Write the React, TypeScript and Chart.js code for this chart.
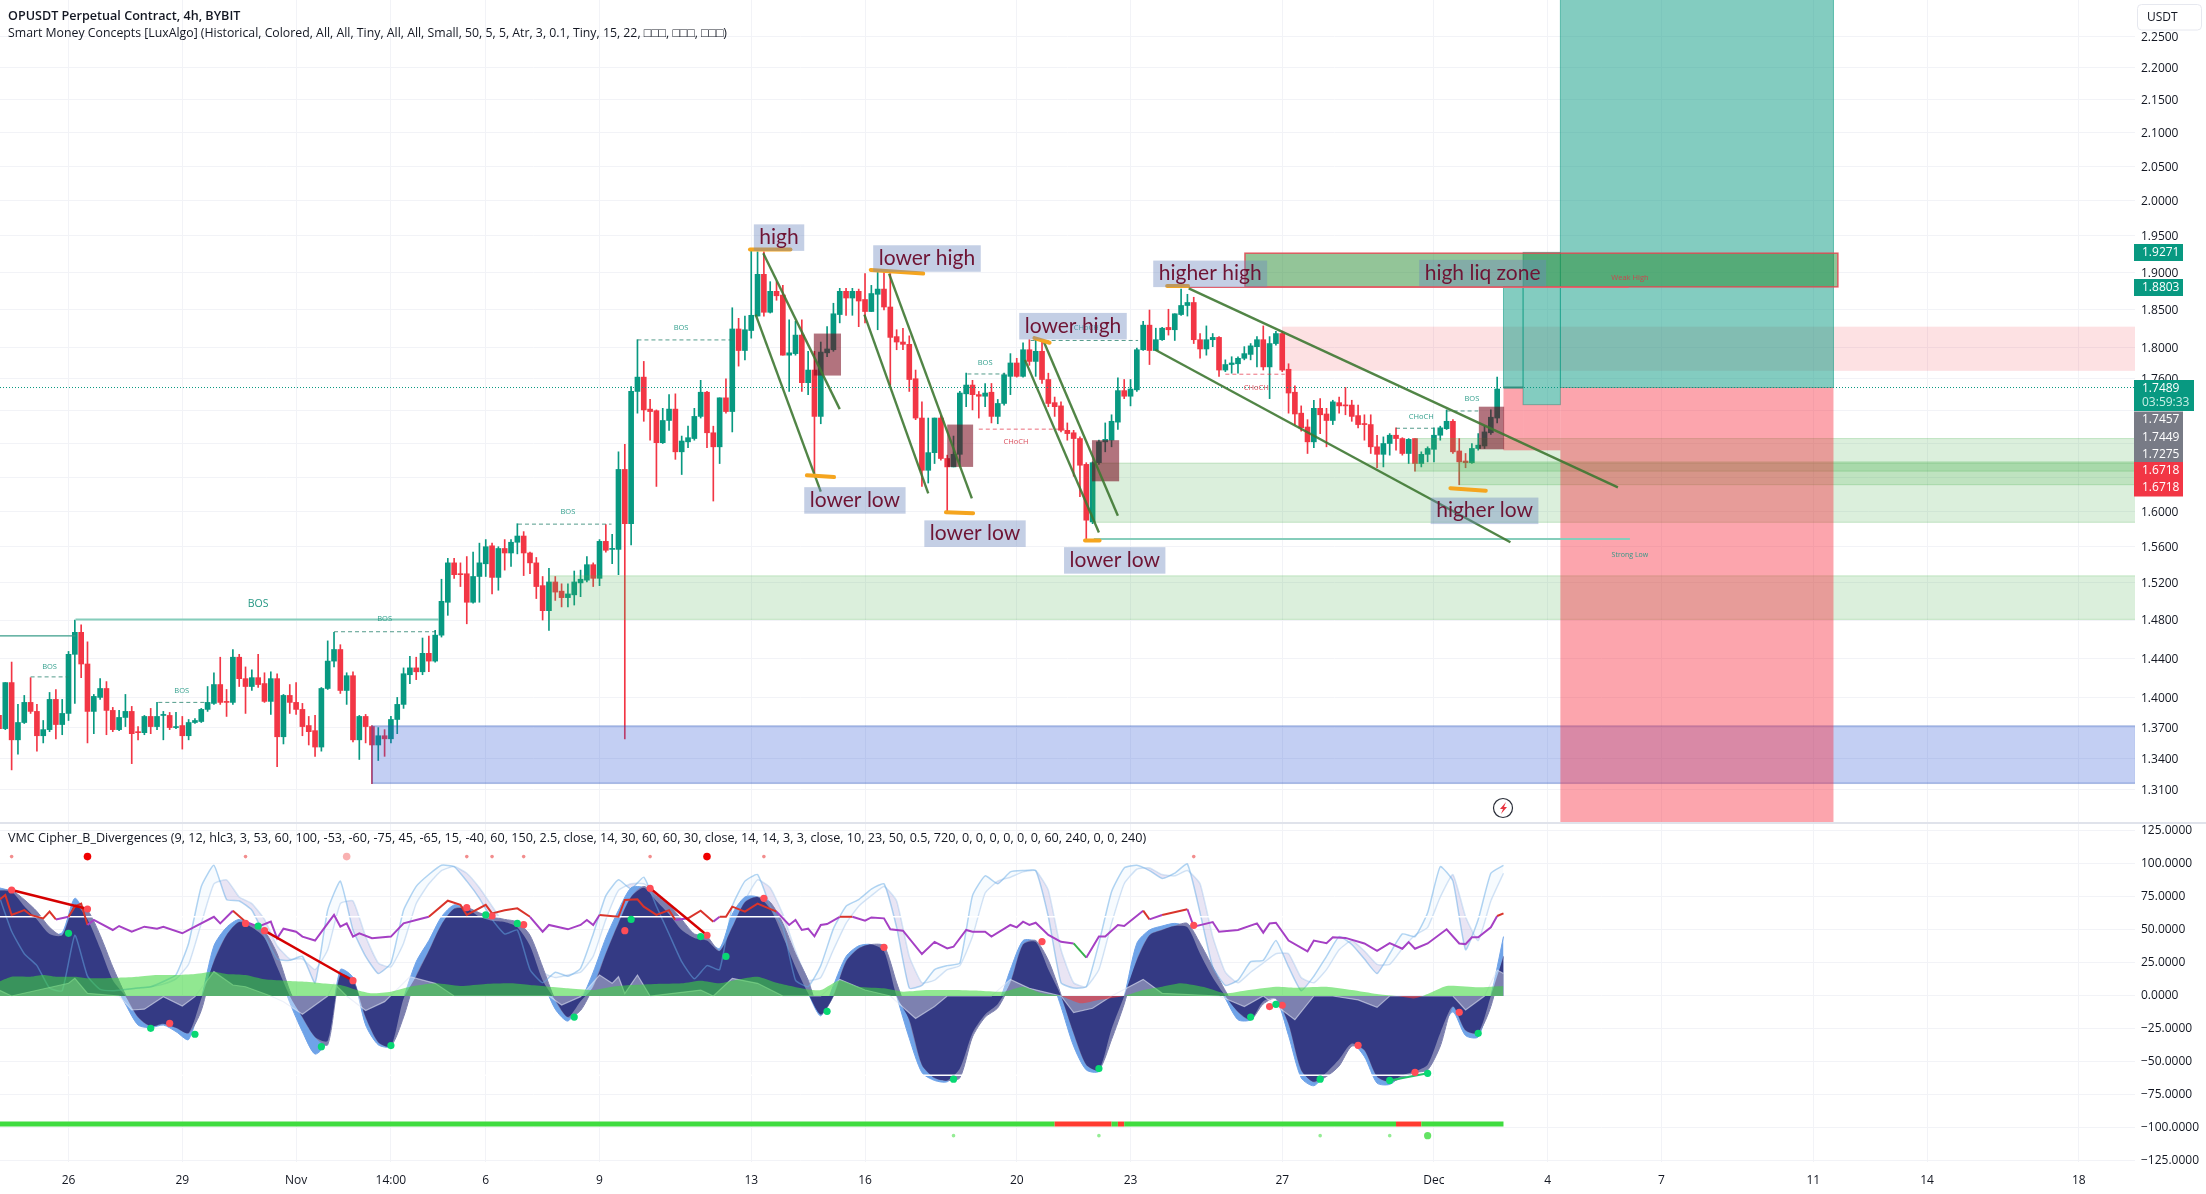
import React, { useEffect, useRef } from 'react';
import { Chart, registerables } from 'chart.js';
Chart.register(...registerables);

// ---------- candles: [open, high, low, close] ----------
const candlesA = [
[1.382,1.384,1.368,1.369],[1.369,1.415,1.368,1.415],[1.415,1.436,1.329,1.358],[1.358,1.393,1.344,1.375],[1.375,1.402,1.374,1.395],
[1.395,1.420,1.384,1.386],[1.386,1.393,1.347,1.362],[1.362,1.377,1.355,1.368],[1.368,1.405,1.366,1.398],[1.398,1.408,1.359,1.373],
[1.373,1.398,1.363,1.384],[1.384,1.447,1.377,1.444],[1.444,1.480,1.394,1.467],[1.467,1.475,1.420,1.434],[1.434,1.457,1.355,1.386],
[1.386,1.403,1.364,1.401],[1.400,1.419,1.398,1.409],[1.409,1.416,1.363,1.387],[1.387,1.390,1.366,1.368],[1.368,1.387,1.367,1.380],
[1.380,1.403,1.371,1.386],[1.386,1.391,1.335,1.364],[1.366,1.371,1.358,1.365],[1.365,1.382,1.363,1.381],[1.381,1.389,1.364,1.371],
[1.371,1.395,1.368,1.381],[1.382,1.386,1.358,1.383],[1.382,1.385,1.368,1.370],[1.370,1.385,1.369,1.371],[1.372,1.381,1.349,1.362],
[1.362,1.378,1.358,1.375],[1.375,1.379,1.374,1.377],[1.376,1.389,1.375,1.388],[1.388,1.411,1.386,1.395],[1.394,1.425,1.393,1.413],
[1.413,1.441,1.393,1.395],[1.396,1.408,1.381,1.395],[1.395,1.449,1.393,1.441],[1.441,1.444,1.411,1.419],[1.419,1.431,1.384,1.411],
[1.411,1.428,1.407,1.420],[1.420,1.444,1.410,1.413],[1.414,1.425,1.395,1.396],[1.396,1.426,1.383,1.419],[1.419,1.424,1.332,1.361],
[1.361,1.403,1.354,1.402],[1.402,1.413,1.384,1.395],[1.395,1.415,1.383,1.388],[1.388,1.394,1.362,1.371],[1.372,1.381,1.353,1.366],
[1.367,1.382,1.342,1.351],[1.351,1.410,1.347,1.409],[1.409,1.458,1.408,1.437],[1.437,1.467,1.431,1.449],[1.449,1.454,1.404,1.407],
[1.407,1.425,1.393,1.422],[1.422,1.426,1.356,1.358],[1.358,1.382,1.339,1.381],[1.381,1.383,1.355,1.371],[1.371,1.372,1.316,1.353],
];
const candlesB = [
[1.353,1.370,1.338,1.362],[1.362,1.368,1.342,1.359],[1.359,1.381,1.355,1.378],[1.378,1.400,1.364,1.393],[1.393,1.430,1.389,1.424],
[1.423,1.442,1.414,1.430],[1.430,1.441,1.418,1.426],[1.426,1.461,1.423,1.445],[1.445,1.463,1.426,1.437],[1.437,1.469,1.436,1.464],
[1.464,1.524,1.462,1.500],[1.499,1.547,1.485,1.542],[1.542,1.547,1.525,1.529],[1.530,1.542,1.516,1.529],[1.530,1.549,1.476,1.499],
[1.499,1.554,1.498,1.527],[1.527,1.564,1.499,1.542],[1.541,1.568,1.527,1.560],[1.561,1.564,1.508,1.526],[1.526,1.560,1.512,1.558],
[1.558,1.568,1.534,1.553],[1.553,1.568,1.538,1.565],[1.565,1.586,1.552,1.572],[1.572,1.577,1.528,1.553],[1.553,1.554,1.530,1.542],
[1.542,1.548,1.503,1.516],[1.517,1.527,1.480,1.490],[1.490,1.536,1.469,1.521],[1.521,1.527,1.501,1.510],[1.511,1.519,1.494,1.504],
[1.504,1.519,1.494,1.508],[1.507,1.533,1.496,1.521],[1.520,1.534,1.505,1.524],[1.523,1.549,1.521,1.540],[1.540,1.542,1.516,1.525],
[1.525,1.568,1.517,1.566],[1.566,1.585,1.554,1.556],[1.557,1.574,1.541,1.558],[1.557,1.670,1.529,1.649],[1.649,1.679,1.359,1.586],
[1.586,1.750,1.562,1.744],[1.744,1.810,1.717,1.762],[1.762,1.782,1.707,1.721],[1.722,1.734,1.684,1.719],[1.720,1.721,1.629,1.681],
[1.681,1.723,1.680,1.708],[1.708,1.740,1.696,1.722],[1.722,1.741,1.661,1.670],[1.670,1.689,1.643,1.683],[1.682,1.701,1.675,1.687],
[1.686,1.723,1.684,1.713],[1.713,1.758,1.711,1.743],[1.743,1.744,1.675,1.693],[1.693,1.701,1.612,1.676],[1.676,1.736,1.656,1.736],
[1.736,1.760,1.717,1.719],[1.719,1.852,1.694,1.824],[1.824,1.838,1.776,1.796],[1.796,1.841,1.784,1.823],[1.822,1.930,1.812,1.842],
];
const candlesC = [
[1.841,1.928,1.841,1.897],[1.897,1.928,1.841,1.846],[1.846,1.887,1.845,1.874],[1.874,1.887,1.862,1.868],[1.869,1.882,1.790,1.790],
[1.790,1.836,1.744,1.793],[1.792,1.834,1.790,1.816],[1.816,1.836,1.744,1.755],[1.755,1.795,1.740,1.771],[1.771,1.795,1.645,1.713],
[1.713,1.807,1.704,1.794],[1.793,1.827,1.788,1.798],[1.797,1.858,1.795,1.844],[1.843,1.878,1.832,1.874],[1.874,1.878,1.842,1.865],
[1.865,1.878,1.842,1.874],[1.874,1.877,1.827,1.861],[1.863,1.898,1.832,1.847],[1.847,1.882,1.847,1.871],[1.870,1.903,1.823,1.877],
[1.877,1.903,1.849,1.853],[1.853,1.898,1.752,1.813],[1.814,1.823,1.797,1.807],[1.807,1.825,1.797,1.804],[1.804,1.815,1.744,1.759],
[1.760,1.771,1.709,1.711],[1.711,1.731,1.629,1.648],[1.648,1.711,1.633,1.669],[1.669,1.711,1.656,1.711],[1.711,1.714,1.660,1.662],
[1.662,1.666,1.600,1.652],[1.652,1.689,1.652,1.667],[1.667,1.744,1.652,1.742],[1.741,1.767,1.725,1.752],[1.752,1.758,1.721,1.740],
[1.740,1.744,1.711,1.738],[1.738,1.754,1.725,1.742],[1.743,1.754,1.705,1.713],[1.713,1.734,1.704,1.729],[1.729,1.767,1.727,1.765],
[1.763,1.792,1.740,1.780],[1.780,1.786,1.762,1.763],[1.763,1.806,1.762,1.797],[1.797,1.810,1.777,1.782],[1.782,1.810,1.763,1.795],
[1.795,1.810,1.754,1.759],[1.759,1.767,1.725,1.729],[1.730,1.737,1.713,1.725],[1.726,1.731,1.694,1.696],[1.696,1.705,1.684,1.692],
[1.693,1.696,1.641,1.686],[1.686,1.688,1.617,1.654],[1.655,1.657,1.567,1.590],[1.588,1.658,1.586,1.657],[1.657,1.684,1.655,1.682],
[1.682,1.705,1.670,1.685],[1.684,1.715,1.676,1.707],[1.706,1.761,1.697,1.745],[1.745,1.759,1.735,1.738],[1.738,1.759,1.726,1.747],
];
const candlesD = [
[1.746,1.799,1.744,1.797],[1.797,1.834,1.796,1.829],[1.829,1.849,1.778,1.796],[1.796,1.825,1.796,1.810],[1.810,1.826,1.809,1.825],
[1.826,1.850,1.816,1.823],[1.823,1.844,1.809,1.844],[1.843,1.877,1.842,1.855],[1.855,1.870,1.841,1.859],[1.859,1.866,1.805,1.810],
[1.810,1.818,1.786,1.798],[1.798,1.828,1.790,1.810],[1.810,1.818,1.801,1.813],[1.813,1.814,1.763,1.771],[1.771,1.784,1.769,1.778],
[1.778,1.788,1.767,1.780],[1.779,1.788,1.767,1.786],[1.786,1.801,1.784,1.792],[1.791,1.805,1.784,1.802],[1.801,1.814,1.775,1.810],
[1.810,1.828,1.771,1.775],[1.775,1.814,1.735,1.805],[1.805,1.821,1.803,1.818],[1.818,1.821,1.769,1.771],[1.772,1.779,1.717,1.742],
[1.743,1.751,1.703,1.716],[1.717,1.726,1.695,1.699],[1.700,1.709,1.668,1.682],[1.682,1.733,1.675,1.723],[1.723,1.735,1.692,1.715],
[1.716,1.723,1.676,1.708],[1.708,1.733,1.703,1.731],[1.730,1.737,1.717,1.726],[1.727,1.749,1.715,1.726],[1.727,1.733,1.707,1.713],
[1.714,1.727,1.699,1.703],[1.704,1.715,1.684,1.703],[1.703,1.715,1.668,1.676],[1.676,1.690,1.651,1.667],[1.667,1.688,1.652,1.680],
[1.680,1.692,1.666,1.690],[1.690,1.699,1.672,1.686],[1.686,1.687,1.666,1.668],[1.668,1.686,1.656,1.685],[1.686,1.686,1.647,1.656],
[1.656,1.670,1.652,1.667],[1.667,1.676,1.658,1.674],[1.673,1.699,1.658,1.690],[1.690,1.701,1.684,1.699],[1.698,1.721,1.697,1.707],
[1.707,1.709,1.668,1.670],[1.671,1.686,1.631,1.658],[1.659,1.668,1.651,1.657],[1.657,1.680,1.656,1.674],[1.674,1.692,1.672,1.678],
[1.677,1.701,1.674,1.694],[1.693,1.721,1.691,1.712],[1.711,1.762,1.705,1.747],
];

// ---------- axes ----------
const priceTicks = [2.25,2.2,2.15,2.1,2.05,2.0,1.95,1.9,1.85,1.8,1.76,1.72,1.68,1.64,1.6,1.56,1.52,1.48,1.44,1.4,1.37,1.34,1.31];
const hiddenPriceTicks = [1.72,1.68,1.64];
const oscTicks = [125,100,75,50,25,0,-25,-50,-75,-100,-125];
const timeBars = [11,29,47,62,77,95,119,137,161,179,203,227,245,263,287,305,329];
const timeLabels = ['26','29','Nov','14:00','6','9','13','16','20','23','27','Dec','4','7','11','14','18'];

// ---------- price pane drawings: [barStart, barEnd, priceTop, priceBottom] ----------
const blueZones = [[59,338,1.3716,1.3163]];
const greenZones = [[87,338,1.5277,1.4807],[173,338,1.6565,1.5876],[224,338,1.686,1.647],[231,338,1.658,1.631]];
const pinkZones = [[203,338,1.827,1.770]];
const orderBoxes = [[128.9,133.2,1.818,1.764],[150,154.1,1.703,1.652],[172.9,177.2,1.684,1.635],[234.1,238.1,1.725,1.673]];
const liqBoxes = [[197.1,290.9,1.926,1.880]];
const profitBoxes = [[238,241.1,1.8803,1.7489],[241.1,247,1.9271,1.7275],[247,290.2,2.4,1.7489]];
const lossBoxes = [[238,241.1,1.7489,1.6718],[241.1,247,1.7275,1.6718],[247,290.2,1.7489,1.2]];
// [barA, priceA, barB, priceB]
const trendLines = [[120.9,1.926,133,1.722],[119.7,1.843,130,1.623],[140.8,1.898,153.9,1.615],[136.9,1.843,147,1.621],[165.3,1.807,177,1.595],[162.3,1.784,174,1.576],[188.2,1.878,256.1,1.628],[182.9,1.797,239.1,1.565]];
const swingMarks = [[118.8,1.931,125.2,1.931],[137.9,1.903,146.2,1.898],[127.8,1.642,132.1,1.640],[149.8,1.599,154.1,1.598],[163.8,1.812,166.2,1.806],[171.8,1.567,174.1,1.567],[184.8,1.881,188.1,1.881],[229.6,1.627,235.2,1.624]];
const bullDashes = [[5,1.4208,11,1.4208],[25.2,1.395,32.5,1.395],[53,1.4676,69.2,1.4676],[82.1,1.5855,96.9,1.5855],[101,1.8097,116,1.8097],[153.2,1.766,159.2,1.766],[163.2,1.809,180.2,1.809],[221,1.6985,227,1.6985],[229,1.7197,234,1.7197]];
const bearDashes = [[155,1.6974,168.6,1.6974],[194,1.7657,203.4,1.7657]];
const bullSolid = [[0,1.4632,12.1,1.4632]];
const bullSolidLight = [[12.1,1.4805,69.6,1.4805],[173.2,1.5686,258,1.5686]];
const bearSolid = [[187.3,1.8793,257.8,1.8793]];
const lastPrice = 1.7489;
const noteLabels = ['high','lower high','lower low','lower low','lower high','lower low','higher high','higher low','high liq zone'];
const noteBars = [123.4,146.8,135.4,154.4,169.9,176.5,191.6,235,234.7];
const notePrices = [1.948,1.919,1.613,1.575,1.828,1.545,1.898,1.601,1.899];
const bullTexts = ['BOS','BOS','BOS','BOS','BOS','BOS','CHoCH','CHoCH','BOS','Strong Low'];
const bullTextBars = [8,28.9,61,90,107.9,156,172,225,233,258];
const bullTextPrices = [1.431,1.4071,1.481,1.5993,1.826,1.7804,1.8254,1.7127,1.7352,1.5505];
const bearTexts = ['CHoCH','CHoCH','Weak High'];
const bearTextBars = [160.9,198.9,258];
const bearTextPrices = [1.6825,1.7488,1.8925];
const mainBos = ['BOS'];
const mainBosBar = [41];
const mainBosPrice = [1.4968];

// ---------- oscillator ----------
const sampleBars = Array.from({ length: 120 }, (_, i) => i * 2);
const wt1Values = [
82,79,68,58,47,48,74,58,36,12,
-6,-22,-24,-22,-27,-33,-2,38,52,58,
52,44,22,-5,-27,-44,-34,20,14,-22,
-37,-38,-2,26,42,60,69,66,60,57,
56,52,38,12,-10,-19,-4,18,44,65,
82,82,72,62,50,44,42,36,62,75,
75,66,45,22,2,-15,8,30,38,39,
34,0,-32,-58,-64,-65,-55,-28,-14,-6,
20,42,41,20,-8,-38,-56,-57,-25,0,
40,50,53,55,52,32,14,-2,-18,-18,
-4,-2,-30,-62,-68,-58,-48,-36,-46,-66,
-67,-60,-57,-52,-28,-12,-30,-31,0,45];
const wt2Values = [
80,80,73,64,52,46,69,65,46,22,
1,-16,-23,-21,-24,-28,-11,26,46,56,
54,49,32,4,-16,-31,-37,16,12,-16,
-35,-38,-16,15,34,54,66,67,63,60,
58,56,46,22,-3,-16,-11,7,32,55,
75,83,76,69,58,47,45,34,52,71,
75,71,55,32,12,-14,0,26,36,39,
38,10,-18,-52,-62,-64,-62,-31,-16,-9,
10,39,42,27,1,-28,-52,-56,-33,-6,
27,46,50,53,55,40,22,4,-12,-18,
-6,-2,-21,-56,-65,-61,-53,-38,-41,-61,
-65,-62,-58,-56,-38,-8,-26,-28,-8,30];
const stochK = [
76,49,32,23,6,4,46,15,5,4,
5,6,7,11,16,40,83,99,73,72,
65,46,28,27,30,10,65,87,50,30,
17,25,65,83,92,99,98,87,74,58,
47,50,20,10,18,15,21,47,76,88,
81,90,68,47,26,13,23,20,68,87,
92,68,52,12,7,23,51,68,73,81,
85,52,6,8,20,23,25,76,91,85,
94,95,95,60,10,6,7,40,79,97,
99,95,89,93,100,63,22,8,12,26,
27,42,22,4,15,30,45,39,28,17,
32,47,45,63,98,87,35,58,93,99];
const stochD = [
80,62,40,30,18,8,22,28,14,6,
5,6,7,9,13,24,55,85,88,75,
70,58,38,28,28,20,35,70,72,45,
25,22,40,70,85,95,98,93,82,68,
54,48,36,18,14,16,18,30,58,80,
85,85,78,58,38,20,18,22,40,72,
88,82,62,34,12,14,35,55,68,76,
83,72,30,10,12,20,23,45,78,87,
90,94,95,80,35,10,7,20,55,85,
96,97,92,91,95,85,45,18,10,18,
25,32,32,14,10,20,35,42,34,24,
24,36,46,52,75,92,60,42,72,93];
const rsiBars = [0,1,2,4,5,7,8,9,11,12,13,14,15,18,19,21,23,25,26,29,31,34,35,37,39,41,43,44,45,47,48,50,52,53,54,55,56,57,59,62,64,66,68,71,73,74,77,78,80,82,84,86,87,90,92,93,94,95,98,99,101,102,104,106,107,109,111,113,114,115,116,118,120,123,125,126,127,128,129,130,131,133,135,137,138,140,141,143,146,148,150,151,153,154,156,157,160,161,162,163,164,166,168,170,172,174,175,177,178,181,182,184,188,189,192,193,196,199,200,201,202,204,207,208,210,211,213,216,218,220,222,223,224,226,229,231,232,233,234,236,237,238];
const rsiValues = [72.7,76.5,61.4,65,61.4,58.8,63.9,58,60,67.7,70,53.8,57.6,50,53,48.7,52.5,51,52.5,47.5,52.5,60,55,64.6,56.3,52.5,56.3,43.7,51,48.7,45,42,55,61.4,52.5,55,45,47.5,43.7,45,55,57.6,60,72.2,69,61.4,69,62.6,65,66.4,60,48.7,53.8,50.5,53.8,57.6,53.8,61.4,60,72.7,73.2,67.7,61.4,65,57.6,58.8,64.6,56.3,60,60,67.7,63.9,70,63.9,53.8,57.6,50,51,45.2,53.8,54.5,60,60,57,59.5,58.8,50.5,49.5,31.8,41,36,37.3,50,48.7,48.7,45,53.8,52,56.3,53.8,55.5,46.2,41,39.8,29,45,45,53.8,53,64.6,58,61.4,65.7,52.5,56,48.7,50,55,48,55,55.5,42,33.8,42,40,44.5,44,39.8,34.2,40,35.8,40.8,35.8,39.8,50.5,39.8,39.3,44.5,44.5,52,60.6,62.6];
const vwapBars = [0,2,11,12,14,19,21,23,26,29,31,34,37,39,43,45,48,52,53,55,58,61,65,69,72,87,89,92,95,97,98,99,101,103,111,113,116,120,124,130,133,137,141,145,148,150,157,160,163,168,170,173,176,181,184,193,197,200,205,208,211,215,218,220,230,232,235,237,238];
const vwapValues = [4.5,0,9.6,13.4,2,0,-10.6,-10,-0.5,-7.6,-0.5,18.4,8.3,7,0,-4.3,-13.9,0,9.6,0,-11,-4.3,14.6,9.6,0,0,-6.8,-0.5,15.9,9.6,14.6,2,15.9,0,4.5,0,13.4,9.6,0,0,12.6,4.5,0,-17,-8,0,0,12.6,5.8,0,-12.6,-9.3,0,12.6,2,0,-8,0,-18,0,0,-3,-8.6,0,0,-10.6,0,19.7,17];
const mfiBars = [0,2,5,7,9,12,14,19,22,25,28,31,34,36,39,42,45,48,51,54,57,59,62,65,69,73,77,81,84,87,90,94,97,100,104,108,111,114,117,120,123,125,128,130,133,136,140,143,147,151,155,159,162,165,168,171,174,178,181,184,187,191,194,197,202,205,210,214,218,222,224,226,229,234,238];
const mfiValues = [10.9,14.6,14.6,15.9,14.6,14.6,13.4,13.9,14.6,15.9,15.9,16.7,18.4,16.7,15.9,12.6,11.6,10.9,9.6,8.3,4,2,3.3,7,9.6,7.6,9.1,9.6,8.3,7,5.8,4.5,7,8.3,9.1,9.6,11.6,9.6,12.6,14.6,10,7.8,5,4.5,12,7,5.8,3.3,4.5,4.5,4,3.3,7,2,0,-5.5,-3,0,4.5,7,9.6,6.3,2,4,7,6.3,7,4.5,1.5,-0.5,-1.8,1.5,7.6,6.6,7.6];
const overboughtLevels = [60,-60];
const redDotBars = [2,14,39,42,56,74,78,83,99,103,112,27,121,140,165,189,201,203,215,224,231];
const redDotValues = [80.3,65.9,55,49.5,11.6,66.9,60.6,54,49.5,81.6,46,-20.7,74,36.9,41.2,53.5,-8,-7,-37.4,-57.8,-12.4];
const greenDotBars = [11,24,31,41,51,62,77,82,91,100,111,115,131,151,174,198,202,209,220,226,234];
const greenDotValues = [47.5,-24.5,-29,53,-38.4,-37.6,61.4,55,-16,58,45,30,-11.6,-63,-55,-16,-6.3,-63,-64,-58.6,-28.3];
const bearDivergences = [[2,80.3,14,65.9],[42,49.5,56,11.6],[103,81.6,112,46]];
const bullDivergences = [[220,-64,226,-58.6]];
const topSmallBars = [2,39,74,78,83,103,121,189];
const topBigBars = [14,112];
const topPaleBars = [55];
const topRowValue = 105.6;
const bottomSmallBars = [151,174,209,220];
const bottomBigBars = [226];
const bottomRowValue = -105.8;
const stripBars = [0,167,176,177,178,221,225,238];
const stripRedFrom = [167,177,221];
const stripValue = -97;

// ---------- texts ----------
const titleMain = 'OPUSDT Perpetual Contract, 4h, BYBIT';
const titleSmc = 'Smart Money Concepts [LuxAlgo] (Historical, Colored, All, All, Tiny, All, All, Small, 50, 5, 5, Atr, 3, 0.1, Tiny, 15, 22, □□□, □□□, □□□)';
const titleVmc = 'VMC Cipher_B_Divergences (9, 12, hlc3, 3, 53, 60, 100, -53, -60, -75, 45, -65, 15, -40, 60, 150, 2.5, close, 14, 30, 60, 60, 30, close, 14, 14, 3, 3, close, 10, 23, 50, 0.5, 720, 0, 0, 0, 0, 0, 0, 60, 240, 0, 0, 240)';
const greenBadges = ['1.9271','1.8803'];
const liveBadge = ['1.7489','03:59:33'];
const greyBadges = ['1.7457','1.7449','1.7275'];
const redBadges = ['1.6718','1.6718'];

// ---------- styling / layout constants ----------
const FONT = '"Open Sans"';
const UP = '#089981';
const DOWN = '#f23645';
const GRID = '#f2f3f7';
const TEXT = '#131722';
const W = 2206;
const PRICE_H = 822;
const OSC_H = 372;
const AXIS_W = 71;
const X_MIN = 0.16;
const X_MAX = 337.9;

const candles = [...candlesA, ...candlesB, ...candlesC, ...candlesD];
const pairs = (xs: number[], ys: number[]) => xs.map((x, i) => ({ x, y: ys[i] }));

function drawRect(c: any, r: number[], fill: string, stroke?: string, lw = 1) {
  const { ctx, scales: { x, y } } = c;
  const x0 = x.getPixelForValue(r[0]), x1 = x.getPixelForValue(r[1]);
  const y0 = y.getPixelForValue(r[2]), y1 = y.getPixelForValue(r[3]);
  ctx.fillStyle = fill;
  ctx.fillRect(x0, y0, x1 - x0, y1 - y0);
  if (stroke) { ctx.strokeStyle = stroke; ctx.lineWidth = lw; ctx.setLineDash([]); ctx.strokeRect(x0, y0, x1 - x0, y1 - y0); }
}
function drawSeg(c: any, s: number[], color: string, lw: number, dash: number[] = [], cap = 'butt') {
  const { ctx, scales: { x, y } } = c;
  ctx.beginPath();
  ctx.moveTo(x.getPixelForValue(s[0]), y.getPixelForValue(s[1]));
  ctx.lineTo(x.getPixelForValue(s[2]), y.getPixelForValue(s[3]));
  ctx.strokeStyle = color; ctx.lineWidth = lw; ctx.setLineDash(dash); ctx.lineCap = cap; ctx.stroke();
  ctx.setLineDash([]); ctx.lineCap = 'butt';
}
function drawTxt(c: any, t: string, bar: number, price: number, color: string, font: string) {
  const { ctx, scales: { x, y } } = c;
  ctx.font = font; ctx.fillStyle = color; ctx.textAlign = 'center'; ctx.textBaseline = 'middle';
  ctx.fillText(t, x.getPixelForValue(bar), y.getPixelForValue(price));
}
function headText(ctx: any, t: string, px: number, py: number, font: string, color = TEXT) {
  ctx.font = font; ctx.fillStyle = color; ctx.textAlign = 'left'; ctx.textBaseline = 'middle';
  ctx.fillText(t, px, py);
}

const priceOverlay = {
  id: 'priceOverlay',
  afterDatasetsDraw(c: any) {
    const { ctx, chartArea: a, scales: { x, y } } = c;
    ctx.save();
    ctx.beginPath(); ctx.rect(a.left, a.top, a.right - a.left, a.bottom - a.top); ctx.clip();
    pinkZones.forEach(r => drawRect(c, r, 'rgba(242,54,69,0.15)'));
    greenZones.forEach(r => drawRect(c, r, 'rgba(76,175,80,0.2)', 'rgba(76,175,80,0.28)'));
    blueZones.forEach(r => drawRect(c, r, 'rgba(41,82,212,0.28)', 'rgba(41,82,180,0.35)', 1.5));
    profitBoxes.forEach(r => drawRect(c, r, 'rgba(8,153,129,0.5)', 'rgba(8,153,129,0.55)'));
    lossBoxes.forEach(r => drawRect(c, r, 'rgba(249,40,60,0.42)'));
    liqBoxes.forEach(r => drawRect(c, r, 'rgba(40,140,50,0.5)', 'rgba(228,70,80,0.85)', 1.5));
    orderBoxes.forEach(r => drawRect(c, r, 'rgba(115,0,20,0.55)'));
    drawSeg(c, [X_MIN, lastPrice, X_MAX, lastPrice], UP, 1, [1, 2]);
    bullDashes.forEach(s => drawSeg(c, s, 'rgba(40,130,110,0.8)', 1, [4, 3]));
    bearDashes.forEach(s => drawSeg(c, s, 'rgba(230,60,80,0.75)', 1, [4, 3]));
    bullSolid.forEach(s => drawSeg(c, s, '#3a9d8a', 1.2));
    bullSolidLight.forEach(s => drawSeg(c, s, '#86cdbb', 2));
    bearSolid.forEach(s => drawSeg(c, s, '#e8606c', 1.2));
    drawSeg(c, [238, 1.7489, 241.1, 1.7489], '#2f8f7e', 2);
    trendLines.forEach(s => drawSeg(c, s, 'rgba(62,120,50,0.9)', 2.4));
    swingMarks.forEach(s => drawSeg(c, s, '#f5a51f', 4, [], 'round'));
    bullTexts.forEach((t, i) => drawTxt(c, t, bullTextBars[i], bullTextPrices[i], 'rgba(30,150,130,0.9)', `${t === 'Strong Low' ? 7 : 7.5}px ${FONT}`));
    bearTexts.forEach((t, i) => drawTxt(c, t, bearTextBars[i], bearTextPrices[i], 'rgba(215,60,75,0.9)', `7.5px ${FONT}`));
    mainBos.forEach((t, i) => drawTxt(c, t, mainBosBar[i], mainBosPrice[i], 'rgba(25,145,125,0.95)', `10.5px ${FONT}`));
    noteLabels.forEach((t, i) => {
      ctx.font = `21px Lato`;
      const w = ctx.measureText(t).width + 11;
      const cx = x.getPixelForValue(noteBars[i]), cy = y.getPixelForValue(notePrices[i]);
      ctx.fillStyle = 'rgba(108,135,190,0.4)';
      ctx.fillRect(cx - w / 2, cy - 13, w, 26.5);
      drawTxt(c, t, noteBars[i], notePrices[i], '#6f1434', `21px Lato`);
    });
    // replay marker
    const bx = 1503, by = 808;
    ctx.beginPath(); ctx.arc(bx, by, 9.5, 0, Math.PI * 2);
    ctx.fillStyle = '#fff'; ctx.fill(); ctx.strokeStyle = '#2a2e39'; ctx.lineWidth = 1.2; ctx.stroke();
    ctx.beginPath();
    ctx.moveTo(bx + 3, by - 6); ctx.lineTo(bx - 3, by + 1); ctx.lineTo(bx, by + 1); ctx.lineTo(bx - 2, by + 6); ctx.lineTo(bx + 4, by - 1); ctx.lineTo(bx + 1, by - 1); ctx.closePath();
    ctx.fillStyle = '#e8333f'; ctx.fill();
    ctx.restore();

    // headings
    ctx.save();
    headText(ctx, titleMain, 8, 16, `600 12.6px ${FONT}`);
    headText(ctx, titleSmc, 8, 33.5, `12.3px ${FONT}`);

    // axis badges
    const badge = (t: string, top: number, h: number, color: string, w = 49, fg = '#fff', font = `12px ${FONT}`) => {
      ctx.fillStyle = color; ctx.fillRect(2134, top, w, h);
      ctx.font = font; ctx.fillStyle = fg; ctx.textAlign = 'left'; ctx.textBaseline = 'middle';
      ctx.fillText(t, 2142, top + h / 2);
    };
    badge(greenBadges[0], 244, 17, UP);
    badge(greenBadges[1], 279, 17, UP);
    ctx.fillStyle = UP; ctx.fillRect(2134, 380, 60, 31);
    ctx.font = `12px ${FONT}`; ctx.textAlign = 'left'; ctx.textBaseline = 'middle';
    ctx.fillStyle = '#fff'; ctx.fillText(liveBadge[0], 2142, 389);
    ctx.fillStyle = '#c8efe6'; ctx.fillText(liveBadge[1], 2142, 403);
    ctx.fillStyle = '#787b86'; ctx.fillRect(2134, 411.5, 49, 51);
    ctx.fillStyle = DOWN; ctx.fillRect(2134, 462, 49, 34.5);
    ctx.fillStyle = '#fff';
    greyBadges.forEach((t, i) => ctx.fillText(t, 2142, 420 + i * 17.3));
    redBadges.forEach((t, i) => ctx.fillText(t, 2142, 470.5 + i * 17.3));

    // currency button
    ctx.beginPath(); ctx.roundRect(2137.5, 4.5, 64, 25.5, 4);
    ctx.fillStyle = '#fff'; ctx.fill(); ctx.strokeStyle = '#e6e8ef'; ctx.lineWidth = 1; ctx.stroke();
    ctx.font = `12px ${FONT}`; ctx.fillStyle = TEXT; ctx.textAlign = 'left';
    ctx.fillText('USDT', 2147, 17.5);
    ctx.restore();
  },
};

const oscOverlay = {
  id: 'oscOverlay',
  afterDatasetsDraw(c: any) {
    const { ctx } = c;
    ctx.save();
    ctx.fillStyle = '#e0e3eb'; ctx.fillRect(0, 0, W, 2);
    headText(ctx, titleVmc, 8, 16, `12.6px ${FONT}`);
    ctx.restore();
  },
};

function noPadding(s: any) { s.paddingLeft = 0; s.paddingRight = 0; s.paddingTop = 0; s.paddingBottom = 0; }

function xScale(showLabels: boolean) {
  return {
    type: 'linear', min: X_MIN, max: X_MAX, offset: false,
    grid: { color: GRID, drawTicks: false, offset: false },
    border: { display: false },
    afterBuildTicks: (s: any) => { s.ticks = timeBars.map(value => ({ value })); },
    afterFit: (s: any) => { s.height = showLabels ? 32 : 0; noPadding(s); },
    ticks: {
      display: showLabels, autoSkip: false, maxRotation: 0, padding: 11,
      color: TEXT, font: { family: 'Open Sans', size: 12 },
      callback: (v: number) => timeLabels[timeBars.indexOf(v)] ?? '',
    },
  };
}
function yFit(s: any) { s.width = AXIS_W; noPadding(s); }

const flat = { pointRadius: 0, pointHoverRadius: 0 };

export default function App() {
  const priceRef = useRef<HTMLCanvasElement>(null);
  const oscRef = useRef<HTMLCanvasElement>(null);

  useEffect(() => {
    const colors = candles.map(r => (r[3] >= r[0] ? UP : DOWN));
    const price = new Chart(priceRef.current!, {
      type: 'bar',
      data: {
        datasets: [
          {
            label: 'Body', order: 1, barThickness: 5, minBarLength: 1, grouped: false,
            data: candles.map((r, i) => ({ x: i, y: [Math.min(r[0], r[3]), Math.max(r[0], r[3])] })),
            backgroundColor: colors, borderWidth: 0,
          },
          {
            label: 'Wick', order: 2, barThickness: 1, grouped: false,
            data: candles.map((r, i) => ({ x: i, y: [r[2], r[1]] })),
            backgroundColor: colors, borderWidth: 0,
          },
        ] as any,
      },
      options: {
        responsive: false, animation: false, devicePixelRatio: 1,
        layout: { padding: 0, autoPadding: false },
        plugins: { legend: { display: false }, tooltip: { enabled: false }, title: { display: false } },
        scales: {
          x: xScale(false),
          y: {
            type: 'logarithmic', position: 'right', min: 1.2802, max: 2.31,
            grid: { color: GRID, drawTicks: false },
            border: { display: false },
            afterFit: yFit,
            afterBuildTicks: (s: any) => { s.ticks = priceTicks.map(value => ({ value })); },
            ticks: {
              autoSkip: false, padding: 6, labelOffset: 1, color: TEXT, font: { family: 'Open Sans', size: 12 },
              callback: (v: number) => (hiddenPriceTicks.includes(v) ? '' : v.toFixed(4)),
            },
          },
        },
      } as any,
      plugins: [priceOverlay],
    });

    // the dark fill covers only the part shared by both wave lines
    const sharedWave = wt1Values.map((v, i) => {
      const u = wt2Values[i];
      if (v * u <= 0) return 0;
      return Math.abs(v) < Math.abs(u) ? v : u;
    });

    const datasets: any[] = [
      { label: 'Stoch D', data: pairs(sampleBars, stochD), borderColor: 'rgba(205,225,245,0.85)', borderWidth: 1.5, fill: false, tension: 0.15, ...flat },
      {
        label: 'Stoch band', data: pairs(sampleBars, stochK), borderWidth: 0, tension: 0.15, ...flat,
        fill: { target: 0, above: 'rgba(190,225,245,0.12)', below: 'rgba(175,160,215,0.27)' },
      },
      { label: 'WT1', data: pairs(sampleBars, wt1Values), borderColor: '#6fa3e8', borderWidth: 1, backgroundColor: '#6fa3e8', fill: 'origin', tension: 0.25, ...flat },
      { label: 'WT2', data: pairs(sampleBars, wt2Values), borderColor: '#7c7fae', borderWidth: 1, backgroundColor: '#7c7fae', fill: 'origin', tension: 0.25, ...flat },
      { label: 'WT shared', data: pairs(sampleBars, sharedWave), borderColor: '#343a84', borderWidth: 0, backgroundColor: '#343a84', fill: 'origin', tension: 0.25, ...flat },
      { label: 'Stoch K', data: pairs(sampleBars, stochK), borderColor: 'rgba(100,170,230,0.5)', borderWidth: 1.5, fill: false, tension: 0.15, ...flat },
      { label: 'VWAP', data: pairs(vwapBars, vwapValues), borderColor: 'rgba(225,230,245,0.6)', borderWidth: 1.2, backgroundColor: 'rgba(255,255,255,0.36)', fill: 'origin', ...flat },
      {
        label: 'MFI', data: pairs(mfiBars, mfiValues), borderWidth: 0, tension: 0.2, ...flat,
        fill: { target: 'origin', above: 'rgba(62,215,62,0.57)', below: 'rgba(240,60,60,0.6)' },
      },
      ...overboughtLevels.map(v => ({ label: 'Level', data: [{ x: 0, y: v }, { x: 238, y: v }], borderColor: '#ffffff', borderWidth: 1.5, fill: false, ...flat })),
      {
        label: 'RSI', data: pairs(rsiBars, rsiValues), borderColor: '#a540c4', borderWidth: 2, fill: false, ...flat,
        segment: {
          borderColor: (s: any) => {
            const a = s.p0.parsed.y, b = s.p1.parsed.y;
            if ((a + b) / 2 >= 60) return '#d9342b';
            if (b < 30) return '#37b24d';
            return '#a540c4';
          },
        },
      },
      ...bearDivergences.map(s => ({ label: 'Bear divergence', data: [{ x: s[0], y: s[1] }, { x: s[2], y: s[3] }], borderColor: '#d50000', borderWidth: 2.4, fill: false, ...flat })),
      ...bullDivergences.map(s => ({ label: 'Bull divergence', data: [{ x: s[0], y: s[1] }, { x: s[2], y: s[3] }], borderColor: '#20c46a', borderWidth: 2, fill: false, ...flat })),
      {
        label: 'Signal strip', data: stripBars.map(x => ({ x, y: stripValue })), borderColor: '#3fdc3f', borderWidth: 5, fill: false, ...flat,
        segment: { borderColor: (s: any) => (stripRedFrom.includes(s.p0.parsed.x) ? '#ff3b30' : '#3fdc3f') },
      },
      { label: 'Red dots', data: pairs(redDotBars, redDotValues), showLine: false, pointRadius: 3.6, pointBackgroundColor: '#ff4d57', pointBorderWidth: 0 },
      { label: 'Green dots', data: pairs(greenDotBars, greenDotValues), showLine: false, pointRadius: 3.6, pointBackgroundColor: '#08d873', pointBorderWidth: 0 },
      { label: 'Top small', data: topSmallBars.map(x => ({ x, y: topRowValue })), showLine: false, pointRadius: 1.8, pointBackgroundColor: 'rgba(235,80,80,0.65)', pointBorderWidth: 0 },
      { label: 'Top big', data: topBigBars.map(x => ({ x, y: topRowValue })), showLine: false, pointRadius: 3.8, pointBackgroundColor: '#f00000', pointBorderWidth: 0 },
      { label: 'Top pale', data: topPaleBars.map(x => ({ x, y: topRowValue })), showLine: false, pointRadius: 3.8, pointBackgroundColor: 'rgba(240,70,70,0.42)', pointBorderWidth: 0 },
      { label: 'Bottom small', data: bottomSmallBars.map(x => ({ x, y: bottomRowValue })), showLine: false, pointRadius: 1.8, pointBackgroundColor: 'rgba(60,220,60,0.55)', pointBorderWidth: 0 },
      { label: 'Bottom big', data: bottomBigBars.map(x => ({ x, y: bottomRowValue })), showLine: false, pointRadius: 3.6, pointBackgroundColor: 'rgba(60,220,60,0.8)', pointBorderWidth: 0 },
    ];
    datasets.forEach((d, i) => { d.order = datasets.length - i; });

    const osc = new Chart(oscRef.current!, {
      type: 'line',
      data: { datasets },
      options: {
        responsive: false, animation: false, devicePixelRatio: 1,
        layout: { padding: 0, autoPadding: false },
        plugins: { legend: { display: false }, tooltip: { enabled: false }, filler: { propagate: false } },
        scales: {
          x: xScale(true),
          y: {
            type: 'linear', position: 'right', min: -125.76, max: 131.8,
            grid: { color: GRID, drawTicks: false },
            border: { display: false },
            afterFit: yFit,
            afterBuildTicks: (s: any) => { s.ticks = oscTicks.map(value => ({ value })); },
            ticks: {
              autoSkip: false, padding: 6, color: TEXT, font: { family: 'Open Sans', size: 12 },
              callback: (v: number) => (v < 0 ? '\u2212' + Math.abs(v).toFixed(4) : v.toFixed(4)),
            },
          },
        },
      } as any,
      plugins: [oscOverlay],
    });

    return () => { price.destroy(); osc.destroy(); };
  }, []);

  return (
    <div style={{ position: 'absolute', left: 0, top: 0, width: W, height: PRICE_H + OSC_H, background: '#fff', overflow: 'hidden' }}>
      <canvas ref={priceRef} width={W} height={PRICE_H} style={{ position: 'absolute', left: 0, top: 0, display: 'block' }} />
      <canvas ref={oscRef} width={W} height={OSC_H} style={{ position: 'absolute', left: 0, top: PRICE_H, display: 'block' }} />
    </div>
  );
}
